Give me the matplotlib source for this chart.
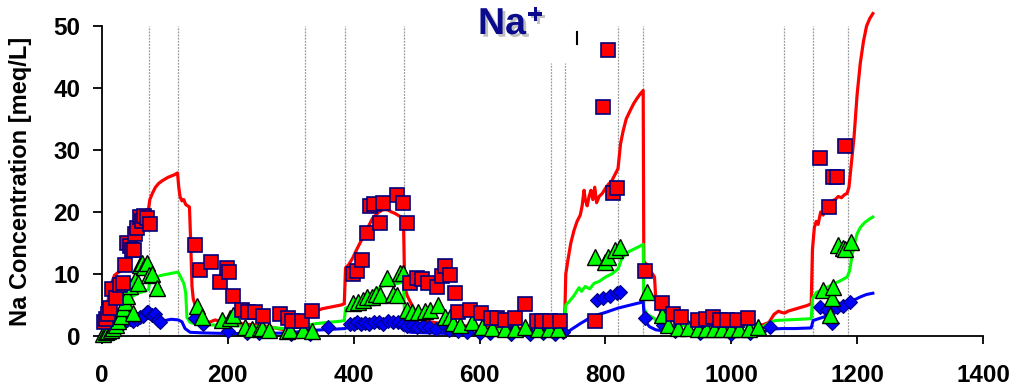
import matplotlib
matplotlib.use("Agg")
import matplotlib.pyplot as plt
from matplotlib import patheffects
from matplotlib.lines import Line2D

# ---------------- data ----------------
red_x = [0, 5, 10, 15, 20, 25, 30, 35, 40, 45, 50, 55, 60, 65, 70, 74, 76, 80, 85, 90, 95, 100, 105, 110, 115, 120,
         122, 124, 127, 130, 133, 136, 139, 141, 143, 145, 148, 152, 156, 160, 170, 180, 190, 200, 210, 220, 240, 260,
         280, 290, 300, 310, 320, 330, 340, 350, 360, 370, 380, 385, 387, 392, 398, 405, 410, 415, 420, 425, 430, 435,
         440, 445, 450, 455, 460, 465, 470, 475, 479, 481, 485, 490, 495, 500, 505, 510, 520, 540, 560, 580, 600, 620,
         650, 680, 700, 720, 735, 737, 740, 745, 750, 755, 760, 763, 766, 768, 771, 774, 777, 780, 783, 786, 790, 795,
         800, 805, 810, 815, 820, 824, 828, 833, 840, 845, 850, 855, 860, 861, 866, 870, 875, 878, 880, 885, 890, 895,
         900, 920, 950, 980, 1000, 1030, 1050, 1060, 1068, 1075, 1080, 1085, 1090, 1100, 1110, 1120, 1127, 1129, 1132,
         1135, 1138, 1142, 1146, 1150, 1155, 1160, 1165, 1170, 1175, 1180, 1184, 1187, 1190, 1195, 1200, 1205, 1210,
         1215, 1220, 1225]
red_y = [1.5, 3, 6, 8.5, 9.8, 10.2, 10.5, 11.5, 13, 15, 16.5, 18, 19.5, 20, 20.3, 20.5, 22, 23, 24, 24.6, 25, 25.3,
         25.6, 25.8, 26, 26.3, 24, 22.5, 21.8, 22, 21.2, 21, 20.8, 15, 8, 6, 5, 4, 3, 2.5, 2.2, 2.6, 2.2, 2.1, 2.4, 2,
         1.8, 1.6, 1.2, 1, 1.5, 2.2, 3, 3.5, 4, 4.4, 4.6, 4.8, 5, 5.2, 11, 11.5, 12.5, 14, 15, 16, 17, 18, 19, 19.5, 20,
         20.3, 20.4, 20.3, 20, 19.8, 19.5, 19.2, 19, 8, 6.5, 5.5, 4.5, 3.5, 2.8, 2.5, 2.3, 2, 1.8, 1.6, 1.5, 1.4, 1.3,
         1.2, 1.2, 1.3, 1.5, 10, 12, 15, 17, 18.5, 19.5, 21, 23.5, 22, 21, 22.5, 23.5, 22, 24, 21.5, 22.5, 23, 23.8, 24.5,
         25, 26, 27, 31, 33, 35, 36.5, 37.5, 38.3, 39, 39.6, 12, 11.5, 10.5, 10, 9.5, 6, 4.5, 3.5, 3, 2.6, 2.2, 2, 1.8,
         1.8, 1.8, 1.8, 2.2, 3.5, 4, 3.8, 3.7, 4, 4.3, 4.6, 4.9, 5.2, 14, 17.5, 18.5, 18, 20, 19.5, 21, 21.5, 21.8, 22,
         22.5, 22.3, 22.8, 23, 24, 27, 32, 39, 44, 47.5, 50, 51.2, 52]

green_x = [0, 10, 20, 30, 40, 50, 60, 70, 74, 76, 85, 95, 105, 115, 121, 125, 130, 133, 135, 140, 150, 170, 200, 250,
           290, 320, 340, 360, 380, 385, 387, 400, 420, 435, 450, 470, 479, 481, 490, 520, 560, 620, 700, 735, 737, 742,
           750, 758, 762, 768, 775, 782, 790, 800, 810, 820, 826, 835, 845, 855, 860, 861, 866, 875, 878, 885, 900, 950,
           1000, 1050, 1062, 1070, 1090, 1110, 1127, 1129, 1135, 1145, 1155, 1165, 1175, 1184, 1188, 1192, 1196, 1200,
           1205, 1212, 1220, 1225]
green_y = [0.5, 1.5, 3, 4.5, 5.5, 6.5, 7, 7.3, 7.5, 9, 9.5, 9.8, 10, 10.2, 10.3, 9.5, 8.5, 7, 3, 2.2, 1.9, 1.8, 1.7,
           1.5, 1.2, 1.6, 2, 2.2, 2.4, 2.5, 4.5, 5, 6, 7.5, 8.2, 8.5, 8.7, 3, 2.2, 1.6, 1.3, 1.1, 1.0, 1.0, 5, 5.5, 6.5,
           7.8, 7.2, 8, 7.6, 8.5, 8.8, 9.5, 10, 10.8, 12.5, 13.5, 14, 14.5, 14.8, 4.5, 3.5, 3, 2.8, 2, 1.7, 1.6, 1.5,
           1.5, 2.2, 2.5, 2.6, 2.7, 2.8, 6, 7, 7.5, 8, 8.5, 9, 9.5, 10.5, 13, 15, 16.5, 17.5, 18.3, 18.9, 19.2]

blue_x = [0, 10, 20, 30, 40, 50, 60, 75, 90, 100, 110, 121, 127, 132, 140, 160, 200, 250, 300, 320, 350, 386, 388,
          420, 450, 470, 479, 481, 490, 550, 650, 735, 745, 760, 780, 800, 820, 840, 860, 862, 870, 880, 900, 1000,
          1050, 1062, 1080, 1100, 1127, 1130, 1145, 1160, 1175, 1185, 1195, 1205, 1215, 1225]
blue_y = [0.3, 0.8, 1.3, 1.8, 2.2, 2.6, 2.8, 3, 2.6, 2.5, 2.7, 2.6, 2.3, 1.2, 0.6, 0.5, 0.4, 0.4, 0.5, 0.8, 1, 1.2,
          1.3, 1.6, 2, 2.3, 2.5, 1.0, 0.6, 0.4, 0.3, 0.3, 1, 2, 3.2, 3.8, 4.5, 5, 5.5, 2.5, 1.5, 1.0, 0.7, 0.6, 0.6,
          1.1, 1.2, 1.2, 1.3, 2.5, 3, 3.5, 4.2, 4.7, 5.8, 6.3, 6.7, 6.9]

sq_x = [3, 6, 10, 13, 16, 22, 28, 33, 37, 40, 44, 48, 51, 53, 56, 60, 63, 67, 71, 76,
        148, 156, 174, 187, 198, 202, 208, 222, 232, 243, 256, 283, 296, 302, 318, 333,
        399, 405, 413, 421, 426, 433, 442, 447, 469, 478, 484,
        489, 500, 508, 518, 532, 540, 545, 553, 561, 566, 585, 603, 618, 628, 640, 656, 672, 691, 699, 712, 728,
        783, 796, 804, 812, 818, 863, 890, 908, 920, 947, 960, 971, 982, 993, 1009, 1027,
        1141, 1155, 1162, 1168, 1181]
sq_y = [2.2, 2.8, 3.5, 4.5, 7.6, 6.2, 8.3, 8.5, 11.5, 15, 14.5, 13.8, 13.9, 16.5, 17.5, 19.2, 18.5, 19.4, 19, 18,
        14.7, 10.6, 12, 8.7, 11, 10.3, 6.5, 4.2, 3.9, 3.8, 3.3, 3.5, 2.9, 2.4, 2.5, 4.0,
        10, 10.5, 12.2, 16.6, 21, 21.3, 18.3, 21.4, 22.8, 21.4, 18.2,
        8.5, 9.3, 9.2, 8.5, 7.9, 9.6, 11.3, 9.8, 6.9, 3.9, 4.2, 3.7, 2.9, 2.9, 2.6, 2.9, 5.1, 2.4, 2.4, 2.4, 2.5,
        2.4, 37, 46.2, 23, 23.8, 10.5, 5.3, 3.5, 3.0, 2.6, 2.7, 3.0, 2.6, 2.6, 2.6, 2.9,
        28.7, 20.8, 25.6, 25.6, 30.6]

tri_x = [2, 6, 10, 14, 18, 22, 26, 30, 34, 37, 40, 45, 49, 52, 57, 60, 64, 67, 71, 75, 79, 87,
         151, 159, 191, 203, 208, 227, 238, 251, 254, 266, 294, 299, 320, 333,
         399, 407, 415, 421, 429, 436, 442, 453, 462, 469, 474, 478, 484, 492, 502, 513, 521, 534, 545, 553, 558,
         569, 588, 604, 620, 640, 656, 672, 693, 710, 725,
         783, 800, 804, 815, 823, 866, 890, 899, 915, 931, 947, 960, 973, 986, 999, 1012, 1028, 1042,
         1146, 1157, 1160, 1162, 1170, 1178, 1181, 1191]
tri_y = [0.4, 0.6, 0.8, 1.0, 1.3, 1.8, 2.5, 3.3, 4.5, 5.5, 6.5, 8, 3.7, 9, 8.5, 11.5, 11.8, 11.2, 11.8, 9.8, 10, 7.8,
         4.8, 3.1, 2.6, 2.9, 3.4, 1.5, 1.2, 1.3, 1.3, 1.0, 0.8, 1.0, 0.9, 0.8,
         5.3, 5.5, 5.8, 6.3, 6.3, 6.8, 6.6, 9.3, 6.8, 6.6, 10.2, 10.2, 4.2, 3.9, 3.9, 4.0, 4.2, 5.0, 3.1, 3.1, 2.1,
         1.8, 2.2, 1.5, 1.3, 1.1, 1.1, 1.5, 1.1, 1.1, 1.1,
         12.8, 12.0, 12.8, 13.9, 14.4, 7.1, 3.4, 1.8, 1.3, 1.3, 1.1, 1.1, 1.1, 1.1, 1.1, 1.1, 1.2, 1.5,
         7.4, 3.4, 6.1, 7.9, 14.7, 14.2, 14, 15.2]

dia_x = [3, 6, 10, 15, 20, 25, 30, 35, 40, 45, 50, 55, 60, 65, 71, 73, 79, 84, 89, 92,
         148, 160, 200, 230, 250, 300, 330, 359,
         394, 400, 405, 412, 418, 425, 432, 440, 447, 455, 462, 470, 478, 484, 492, 500, 510, 520, 530, 542, 552,
         565, 580, 600, 617, 650, 680, 701, 720, 733,
         787, 796, 807, 818, 823, 863, 891, 910, 950, 1000, 1030, 1061,
         1141, 1152, 1160, 1168, 1178, 1189]
dia_y = [1.8, 2.8, 1.5, 0.8, 1.2, 1.5, 1.8, 2.2, 2.6, 2.8, 2.5, 2.8, 3.1, 3.3, 3.9, 3.8, 3.4, 3.5, 2.6, 2.3,
         2.9, 2.0, 0.8, 0.5, 0.5, 0.3, 0.4, 1.5,
         1.9, 2.0, 2.3, 1.9, 2.1, 2.0, 2.2, 2.3, 2.0, 2.5, 2.2, 2.3, 2.0, 1.6, 1.8, 1.5, 1.6, 1.4, 1.2, 1.9, 1.0,
         0.8, 0.6, 0.5, 0.5, 0.4, 0.4, 0.5, 0.4, 0.7,
         5.8, 6.1, 6.5, 6.9, 7.1, 2.9, 1.8, 0.8, 0.5, 0.3, 0.5, 1.5,
         4.7, 4.2, 2.1, 4.7, 4.8, 5.5]

# vertical event lines: (x, top)
vline_x = [75, 121, 323, 386, 480, 713, 736, 820, 860, 1084, 1130, 1185]
vline_top = [50, 50, 50, 50, 50, 44, 44, 50, 50, 50, 50, 50]

x_ticks = [0, 200, 400, 600, 800, 1000, 1200, 1400]
y_ticks = [0, 10, 20, 30, 40, 50]

# ---------------- figure ----------------
plt.rcParams['font.family'] = ['Liberation Sans', 'DejaVu Sans']
fig = plt.figure(figsize=(10.26, 3.87), dpi=100)
ax = fig.add_axes([102 / 1026, 1 - 336 / 387, 881 / 1026, 310 / 387])

ax.vlines(vline_x, 0, vline_top, colors='#9a9a9a', linestyles=(0, (1.5, 1)), linewidth=0.9, zorder=1)

ax.plot(red_x, red_y, color='#ff0000', lw=2.3, zorder=2, clip_on=False)
ax.plot(green_x, green_y, color='#00ff00', lw=2.2, zorder=2, clip_on=False)
ax.plot(blue_x, blue_y, color='#0000ff', lw=2.2, zorder=2, clip_on=False)

ax.plot(dia_x, dia_y, ls='none', marker='D', ms=7.5, mfc='#0000ff', mec='#000080', mew=0.8, zorder=3, clip_on=False)
ax.plot(tri_x, tri_y, ls='none', marker='^', ms=11, mfc='#00ff00', mec='black', mew=1.0, zorder=4, clip_on=False)
ax.plot(sq_x, sq_y, ls='none', marker='s', ms=10.5, mfc='#ff0000', mec='#000080', mew=1.2, zorder=5, clip_on=False)

ax.set_xlim(0, 1400)
ax.set_ylim(0, 50)
ax.set_xticks(x_ticks)
ax.set_yticks(y_ticks)
for s in ['top', 'right']:
    ax.spines[s].set_visible(False)
for s in ['left', 'bottom']:
    ax.spines[s].set_linewidth(1.3)
ax.tick_params(axis='x', direction='out', length=5.5, width=1.3, pad=15, labelsize=17.5)
ax.tick_params(axis='y', direction='out', length=6.5, width=1.3, pad=9, labelsize=17.5)
for lab in ax.get_xticklabels() + ax.get_yticklabels():
    lab.set_fontweight('bold')

ax.set_ylabel('Na Concentration [meq/L]', fontsize=17, fontweight='bold')
ax.yaxis.set_label_coords(-0.079, 0.5)

# title "Na+"
shadow = [patheffects.withSimplePatchShadow(offset=(2, -2), shadow_rgbFace='#999999', alpha=0.6)]
t = fig.text(478 / 1026, 1 - 34 / 387, 'Na', fontsize=27, fontweight='bold', color='#0a0a8c',
             ha='left', va='baseline', path_effects=shadow)
ax.annotate('+', xy=(1, 1), xycoords=t, xytext=(1, 2), textcoords='offset points',
            fontsize=20, fontweight='bold', color='#0a0a8c', ha='left', va='top',
            path_effects=shadow, annotation_clip=False)

fig.add_artist(Line2D([577 / 1026, 577 / 1026], [1 - 32 / 387, 1 - 44 / 387], color='black', lw=1.5))

fig.savefig('out.png', dpi=100)
